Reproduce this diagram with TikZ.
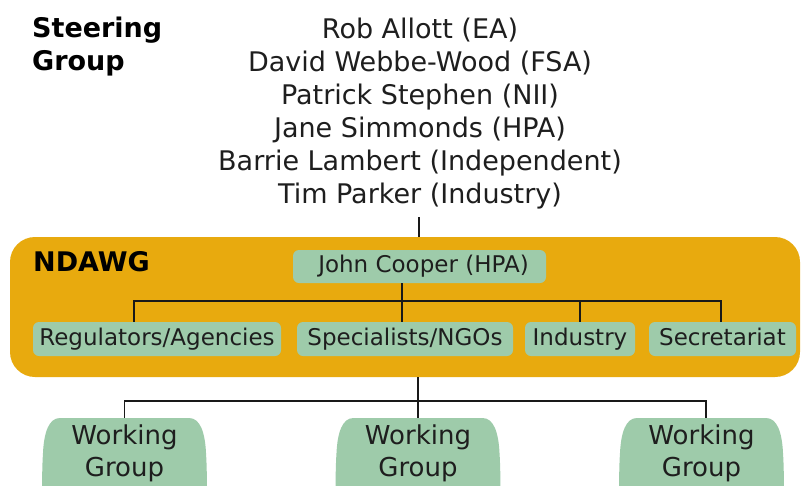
\documentclass[tikz,border=0pt]{standalone}
\usepackage{fontspec}
\setmainfont{DejaVu Sans}
\definecolor{ndorange}{RGB}{232,170,14}
\definecolor{ndgreen}{RGB}{158,203,170}
\definecolor{ndtext}{RGB}{30,30,30}
\begin{document}
\begin{tikzpicture}[x=1pt,y=-1pt,
  conn/.style={draw=black!90, line width=1.8pt},
  gbox/.style={fill=ndgreen, rounded corners=6pt, inner sep=0pt, minimum height=34pt,
    text height=17pt, text depth=5pt,
    font=\fontsize{23}{27}\selectfont, text=ndtext},
  bigtxt/.style={font=\fontsize{27}{33}\selectfont, text=ndtext, inner sep=0pt},
  boldtxt/.style={font=\bfseries\fontsize{27}{33}\selectfont, text=black, inner sep=0pt},
  wgtxt/.style={font=\fontsize{26}{32}\selectfont, text=ndtext, align=center,
    anchor=north, inner xsep=0pt, inner ysep=7pt, minimum width=165pt},
  wgbox/.pic={\fill[ndgreen] (18,0) -- (147,0) .. controls (158,0) and (163,14) .. (164,35)
    .. controls (165,50) and (165,70) .. (165,90) -- (0,90)
    .. controls (0,70) and (0,50) .. (1,35) .. controls (2,14) and (7,0) .. (18,0) -- cycle;}
]
\useasboundingbox (0,0) rectangle (803,485);
\clip (0,0) rectangle (803,485);
\fill[white] (0,0) rectangle (803,485);

% Steering group
\node[boldtxt, align=left, anchor=north west] (sglabel) at (32,16.5) {Steering\\Group};
\node[bigtxt, align=center, anchor=north] (names) at (420,17.5)
  {Rob Allott (EA)\\David Webbe-Wood (FSA)\\Patrick Stephen (NII)\\Jane Simmonds (HPA)\\Barrie Lambert (Independent)\\Tim Parker (Industry)};
\coordinate (sgend) at (419,217);

% NDAWG panel
\node[fill=ndorange, rounded corners=25pt, minimum width=790pt, minimum height=140pt, inner sep=0pt]
  (ndawg) at (405,307) {};
\node[boldtxt, anchor=west] (ndlabel) at (33,262) {NDAWG};

\node[gbox, minimum width=253pt, minimum height=33pt] (jc) at (419.5,266.5) {\hspace*{8pt}John Cooper (HPA)};
\node[gbox, minimum width=248pt] (reg) at (157,339) {Regulators/Agencies};
\node[gbox, minimum width=216pt] (spe) at (405,339) {Specialists/NGOs};
\node[gbox, minimum width=110pt] (ind) at (580,339) {Industry};
\node[gbox, minimum width=147pt] (sec) at (722.5,339) {Secretariat};

% Working groups
\pic at (42,418) {wgbox};
\pic at (335.5,418) {wgbox};
\pic at (619,418) {wgbox};
\node[wgtxt] (wg1) at (124.5,418) {Working\\Group};
\node[wgtxt] (wg2) at (418,418) {Working\\Group};
\node[wgtxt] (wg3) at (701.5,418) {Working\\Group};

% connectors
\draw[conn] (sgend) -- (sgend |- ndawg.north);
\coordinate (busL) at (134,301);
\coordinate (busR) at (721,301);
\draw[conn] (busL |- reg.north) -- (busL) -- (busR) -- (busR |- sec.north);
\draw[conn] ([xshift=-17.5pt]jc.south) -- ([xshift=-17.5pt]jc.south |- spe.north);
\draw[conn] (ind.north |- busL) -- (ind.north);
\coordinate (wbus) at (0,401);
\draw[conn] (wg2.north |- ndawg.south) -- (wg2.north);
\draw[conn] (wg1.north) -- (wg1.north |- wbus) -- ([xshift=4.5pt]wg3.north |- wbus) -- ([xshift=4.5pt]wg3.north);
\end{tikzpicture}
\end{document}
